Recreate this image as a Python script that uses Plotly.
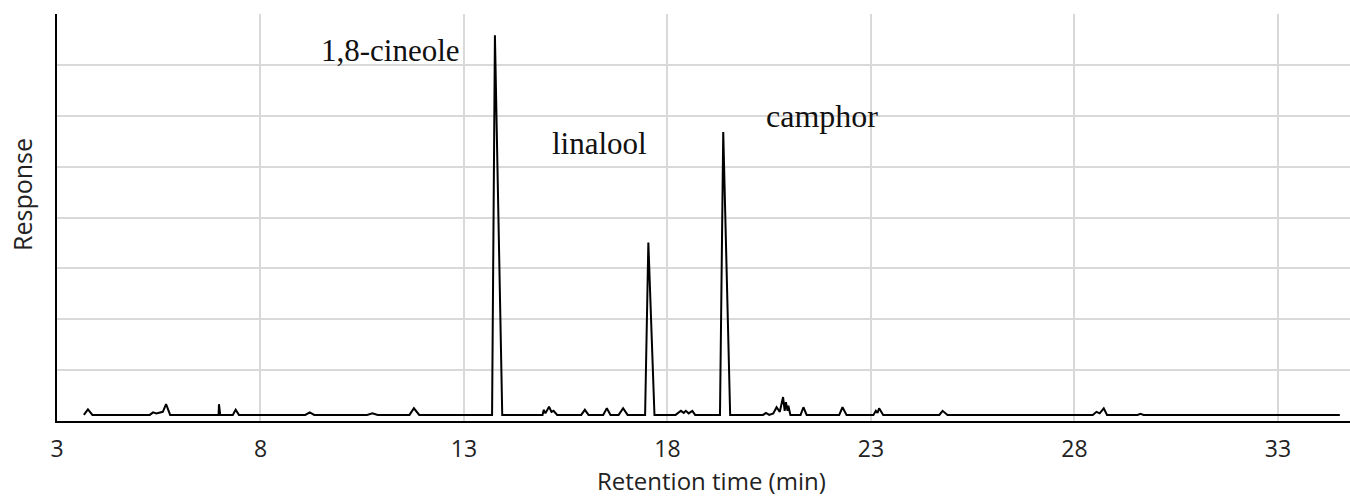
import plotly.graph_objects as go

# Chromatogram trace (retention time in min, response in gridline units)
rt = [3.66, 3.76, 3.87,
      5.28, 5.36, 5.44, 5.60, 5.68, 5.78,
      6.97, 6.98, 7.01,
      7.32, 7.39, 7.47,
      9.10, 9.21, 9.32,
      10.62, 10.75, 10.88,
      11.66, 11.77, 11.90,
      13.69, 13.76, 13.94,
      14.93, 14.96, 15.00, 15.09, 15.15, 15.20, 15.29,
      15.88, 15.97, 16.06,
      16.42, 16.51, 16.60,
      16.80, 16.91, 17.02,
      17.45, 17.53, 17.68,
      18.20, 18.28, 18.33, 18.40, 18.45, 18.52, 18.61, 18.68,
      19.29, 19.37, 19.54,
      20.35, 20.42, 20.50, 20.60, 20.68, 20.76, 20.84, 20.88, 20.91, 20.95, 20.97, 21.02,
      21.27, 21.34, 21.42,
      22.22, 22.30, 22.40,
      23.06, 23.12, 23.16, 23.20, 23.30,
      24.68, 24.76, 24.88,
      28.45, 28.54, 28.62, 28.72, 28.80,
      29.55, 29.62, 29.70,
      34.52]
response = [0.12, 0.23, 0.12,
            0.12, 0.17, 0.15, 0.18, 0.33, 0.12,
            0.12, 0.33, 0.12,
            0.12, 0.22, 0.12,
            0.12, 0.17, 0.12,
            0.12, 0.15, 0.12,
            0.12, 0.25, 0.12,
            0.12, 7.58, 0.12,
            0.12, 0.22, 0.15, 0.28, 0.18, 0.20, 0.12,
            0.12, 0.22, 0.12,
            0.12, 0.25, 0.12,
            0.12, 0.25, 0.12,
            0.12, 3.51, 0.12,
            0.12, 0.16, 0.20, 0.16, 0.20, 0.15, 0.20, 0.12,
            0.12, 5.68, 0.12,
            0.12, 0.16, 0.12, 0.15, 0.27, 0.18, 0.47, 0.20, 0.37, 0.20, 0.30, 0.12,
            0.12, 0.27, 0.12,
            0.12, 0.27, 0.12,
            0.12, 0.20, 0.16, 0.25, 0.12,
            0.12, 0.20, 0.12,
            0.12, 0.18, 0.15, 0.25, 0.12,
            0.12, 0.14, 0.12,
            0.12]

x_ticks = [3, 8, 13, 18, 23, 28, 33]

peak_names = ["1,8-cineole", "linalool", "camphor"]
peak_label_x = [11.19, 16.33, 21.8]
peak_label_y = [7.28, 5.45, 6.0]
peak_label_size = [31, 31, 32]

W, H = 1350, 497
L, R, T, B = 57, 0, 14, 76

fig = go.Figure()
fig.add_trace(go.Scatter(x=rt, y=response, mode="lines",
                         line=dict(color="black", width=2), showlegend=False,
                         hoverinfo="skip"))

for name, lx, ly, fs in zip(peak_names, peak_label_x, peak_label_y, peak_label_size):
    fig.add_annotation(x=lx, y=ly, xref="x", yref="y", text=name, showarrow=False,
                       font=dict(family="Liberation Serif", size=fs, color="#111"),
                       xanchor="center", yanchor="middle")

pw, ph = W - L - R, H - T - B
fig.add_annotation(x=(711 - L) / pw, y=-(480 - (H - B)) / ph,
                   xref="paper", yref="paper", text="Retention time (min)",
                   showarrow=False, font=dict(family="Open Sans", size=24, color="#222"),
                   xanchor="center", yanchor="middle")
fig.add_annotation(x=-(L - 22) / pw, y=((H - B) - 195) / ph,
                   xref="paper", yref="paper", text="Response", textangle=-90,
                   showarrow=False, font=dict(family="Open Sans", size=25, color="#222"),
                   xanchor="center", yanchor="middle")

fig.update_layout(
    width=W, height=H,
    margin=dict(l=L, r=R, t=T, b=B, autoexpand=False),
    paper_bgcolor="white", plot_bgcolor="white",
    xaxis=dict(range=[3, 34.77], tickmode="array", tickvals=x_ticks,
               ticktext=[str(t) for t in x_ticks],
               showgrid=True, gridcolor="#d9d9d9", gridwidth=2,
               showline=True, linecolor="black", linewidth=2,
               ticks="outside", ticklen=6, tickcolor="rgba(0,0,0,0)",
               tickfont=dict(family="Open Sans", size=23, color="#222"),
               zeroline=False),
    yaxis=dict(range=[0, 8], dtick=1, showticklabels=False,
               showgrid=True, gridcolor="#d9d9d9", gridwidth=2,
               showline=True, linecolor="black", linewidth=2,
               zeroline=False, ticks=""),
)

fig.write_html("out.html", config={"displayModeBar": False},
               post_script="document.body.style.margin='0';document.body.style.overflow='hidden';")
